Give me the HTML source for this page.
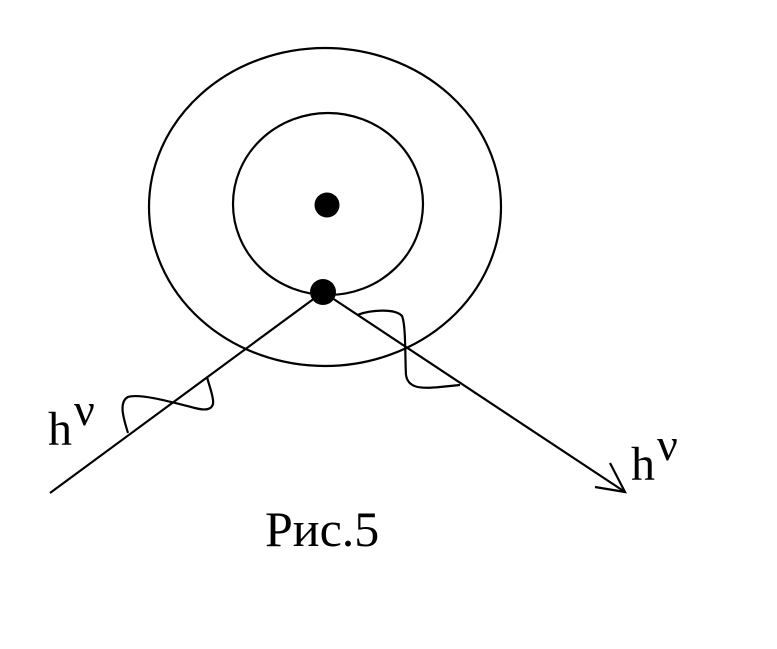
<!DOCTYPE html>
<html><head><style>body{margin:0;background:#fff}</style></head><body>
<svg width="777" height="644" viewBox="0 0 777 644" xmlns="http://www.w3.org/2000/svg">
<rect width="777" height="644" fill="#fff"/>
<g fill="none" stroke="#000" stroke-width="2.2">
<ellipse cx="325" cy="207" rx="176" ry="159"/>
<ellipse cx="328" cy="204" rx="95" ry="91"/>
<line x1="50" y1="493" x2="323" y2="292"/>
<line x1="323" y1="292" x2="625" y2="492"/>
<path d="M595,487 L625,492 L610,463"/>
<path d="M128,433 C124,420 118,402 128,397 C140,393 175,403 195,408 C210,412 214,407 213,400 C212,392 209,385 207,377"/>
<path d="M357,315 C370,310 395,308 402,316 C406,325 405,360 406,375 C408,388 420,389 440,387 L460,385"/>
</g>
<circle cx="327" cy="205" r="12.5" fill="#000"/>
<circle cx="323" cy="292" r="13" fill="#000"/>
<g font-family="Liberation Serif, serif" fill="#000">
<text x="48" y="445" font-size="48">h</text><text x="74" y="425" font-size="46">ν</text>
<text x="631" y="480" font-size="48">h</text><text x="657" y="460" font-size="46">ν</text>
<text x="265" y="546" font-size="50">Рис.5</text>
</g>
</svg>
</body></html>
